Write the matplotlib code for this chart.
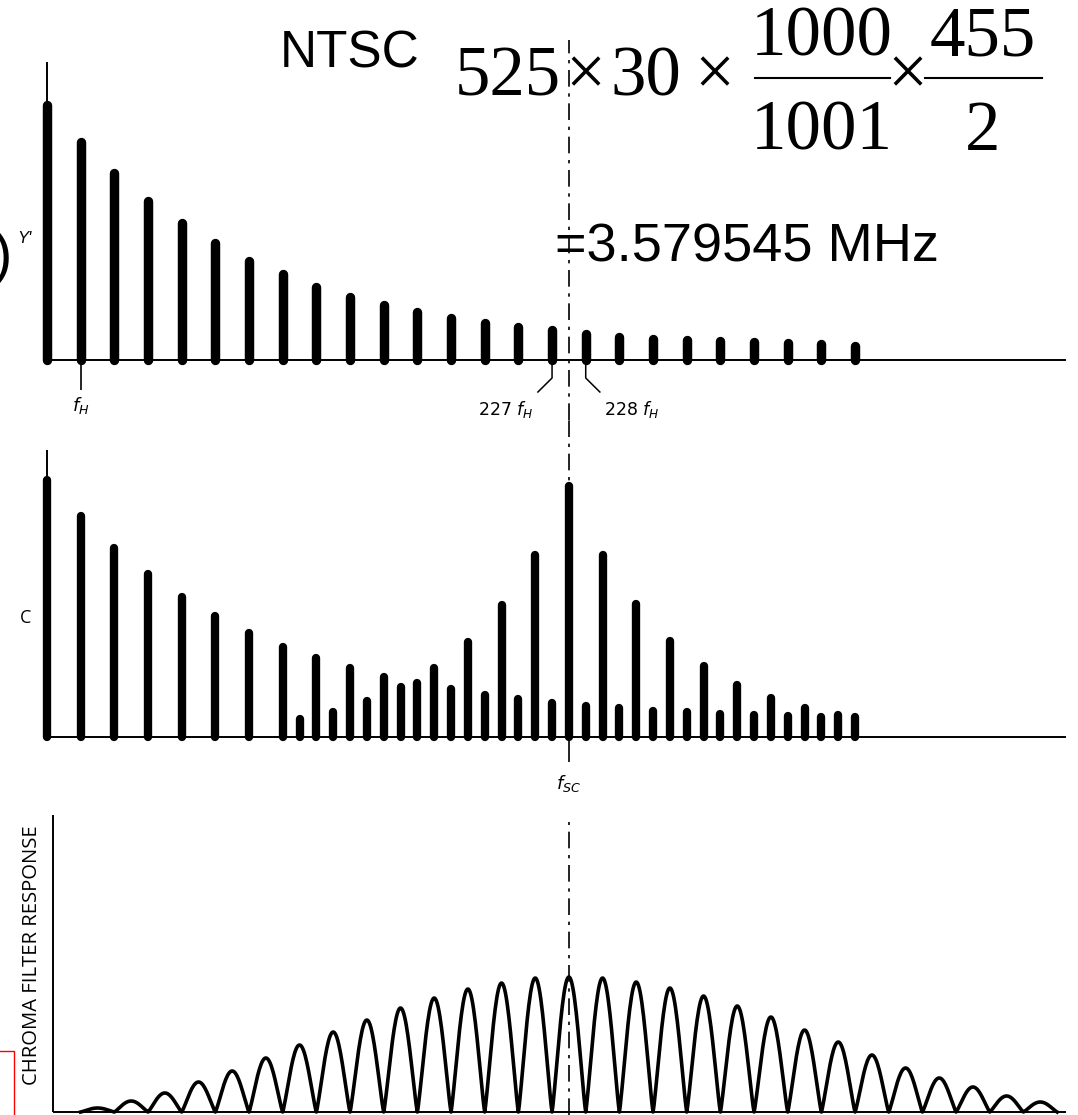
import matplotlib
matplotlib.use('Agg')
from matplotlib import pyplot as plt
import numpy as np

# Harmonic index n (multiples of the line rate f_H)
luma_harm = np.arange(25)
luma_amp = [255, 218, 187, 159, 137, 117, 99, 86, 73, 63, 55, 48, 42,
            37, 33, 30, 26, 23, 21, 20, 19, 18, 17, 16, 14]

# Chroma panel: the decaying bars on n*f_H and the chroma bars on (n+1/2)*f_H
c_low_harm = np.arange(25)
c_low_amp = [257, 221, 189, 163, 140, 121, 104, 90, 79, 69, 60, 54, 48,
             42, 38, 34, 31, 29, 26, 25, 23, 22, 21, 20, 20]
c_chroma_harm = np.arange(7, 24) + 0.5
c_chroma_amp = [18, 25, 36, 50, 69, 95, 132, 182, 251, 182, 133, 96, 71,
                52, 39, 29, 22]

# Comb filter response: peak of each lobe, lobes centred on (n+1/2)*f_H
filter_peak_harm = np.arange(1, 30) + 0.5
filter_peak_amp = [4, 11, 19, 30, 41, 54, 67, 80, 92, 104, 114, 123, 129,
                   134, 135, 134, 130, 124, 116, 106, 95, 82, 70, 57, 44,
                   34, 25, 16, 10]

fsc_harm = 227.5 - 212  # f_SC sits halfway between 227 f_H and 228 f_H

W, H = 1078, 1115
fig = plt.figure(figsize=(W / 100, H / 100), dpi=100)
x_lim = (-47 / 33.67, (W - 47) / 33.67)


def band(top_px, bot_px, y_lo, y_hi):
  ax = fig.add_axes([0, 1 - bot_px / H, 1, (bot_px - top_px) / H])
  ax.set_xlim(*x_lim)
  ax.set_ylim(y_lo, y_hi)
  ax.axis('off')
  ax.patch.set_alpha(0)
  return ax


def bars(ax, x, h, lw):
  lc = ax.vlines(x, 0, h, color='black', lw=lw)
  lc.set_capstyle('round')


dashdot = (0, (10, 4, 2, 4))

# --- Y' spectrum
ax1 = band(0, 420, -60, 360)
ax1.hlines(0, -0.09, 30.25, color='black', lw=1.4)
ax1.vlines(0, 0, 298, color='black', lw=1.4)
bars(ax1, luma_harm, luma_amp, 6.8)
ax1.vlines(fsc_harm, -60, 320, color='black', lw=1.2, linestyles=dashdot)
ax1.vlines(1, -30, 0, color='black', lw=1.2)
ax1.text(1, -45, r'$f_H$', ha='center', va='center', fontsize=13)
ax1.plot([15, 15, 14.58], [-2, -18, -32], color='black', lw=1.1)
ax1.plot([16, 16, 16.42], [-2, -18, -32], color='black', lw=1.1)
ax1.text(14.45, -50, r'227 $f_H$', ha='right', va='center', fontsize=12.5)
ax1.text(16.55, -50, r'228 $f_H$', ha='left', va='center', fontsize=12.5)

# --- C spectrum
ax2 = band(420, 790, -53, 317)
ax2.hlines(0, 0.02, 30.25, color='black', lw=1.4)
ax2.vlines(0, 0, 287, color='black', lw=1.4)
ax2.vlines(fsc_harm, 0, 317, color='black', lw=1.2, linestyles=dashdot)
bars(ax2, c_low_harm, c_low_amp, 6.0)
bars(ax2, c_chroma_harm, c_chroma_amp, 6.0)
ax2.vlines(fsc_harm, -25, 0, color='black', lw=1.2)
ax2.text(fsc_harm, -46, r'$f_{SC}$', ha='center', va='center', fontsize=13)

# --- chroma filter response
ax3 = band(790, 1115, -3, 322)
ax3.hlines(0, 0.18, 30.25, color='black', lw=1.4)
ax3.vlines(0.18, 0, 297, color='black', lw=1.4)
ax3.vlines(fsc_harm, -3, 290, color='black', lw=1.2, linestyles=dashdot)
xs, ys = [], []
for c, p in zip(filter_peak_harm, filter_peak_amp):
  t = np.linspace(c - 0.5, c + 0.5, 40)
  xs.append(t)
  ys.append(p * np.abs(np.sin(np.pi * (t - c + 0.5))) ** 1.2)
ax3.plot(np.concatenate(xs), np.concatenate(ys), color='black', lw=2.6)

# --- overlay in pixel units for the loose labels
ov = fig.add_axes([0, 0, 1, 1])
ov.set_xlim(0, W)
ov.set_ylim(H, 0)
ov.axis('off')
ov.patch.set_alpha(0)

sans = 'Liberation Sans'
serif = 'Liberation Serif'
ov.text(280, 68, 'NTSC', fontsize=37, family=sans, va='baseline')
ov.text(455, 95, '525', fontsize=51, family=serif, va='baseline')
ov.text(585, 95, '\u00d7', fontsize=51, family=serif, va='baseline', ha='center')
ov.text(610, 95, '30', fontsize=51, family=serif, va='baseline')
ov.text(714, 95, '\u00d7', fontsize=51, family=serif, va='baseline', ha='center')
ov.text(822, 55, '1000', fontsize=51, family=serif, va='baseline', ha='center')
ov.text(822, 150, '1001', fontsize=51, family=serif, va='baseline', ha='center')
ov.plot([755, 890], [78, 78], color='black', lw=1.5)
ov.text(907, 95, '\u00d7', fontsize=51, family=serif, va='baseline', ha='center')
ov.text(983, 55, '455', fontsize=51, family=serif, va='baseline', ha='center')
ov.text(983, 150, '2', fontsize=51, family=serif, va='baseline', ha='center')
ov.plot([925, 1042], [78, 78], color='black', lw=1.5)
ov.text(555, 261, '=3.579545 MHz', fontsize=39, family=sans, va='baseline')

ov.text(12, 258, ')', fontsize=42, family=sans, ha='right', va='center')
ov.text(17, 243, "Y'", fontsize=12, family=sans, style='italic', va='baseline')
ov.text(26, 618, 'C', fontsize=13, family='Open Sans', ha='center', va='center')
ov.text(32, 955, 'CHROMA FILTER RESPONSE', fontsize=14.6, family='Open Sans',
        rotation=90, ha='center', va='center')
ov.plot([0, 14, 14], [1051, 1051, 1115], color='red', lw=1)

fig.savefig('out.png', dpi=100)
